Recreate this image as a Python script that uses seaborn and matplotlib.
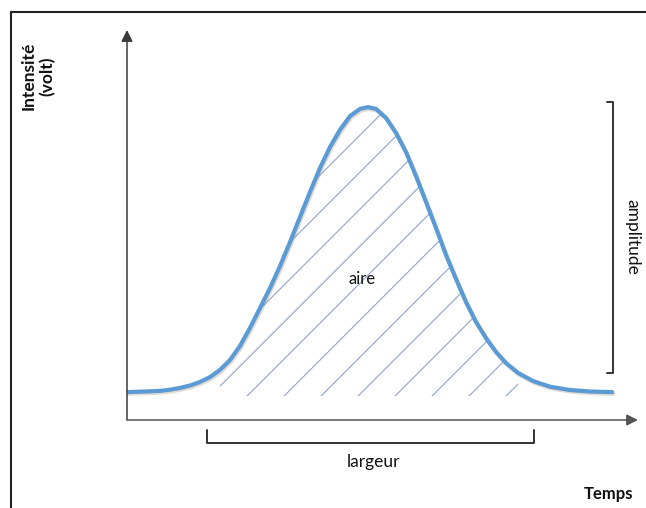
import numpy as np
import pandas as pd
import matplotlib
matplotlib.use('Agg')
import matplotlib.pyplot as plt
import matplotlib.patheffects as pe
from matplotlib.patches import Polygon
from matplotlib.lines import Line2D
import seaborn as sns

# Pulse (time in arbitrary units, intensity in arbitrary units)
temps = [0, 3.6, 6.6, 8.6, 10.6, 12.6, 14.6, 16.6, 18.6, 20.6,
         22.6, 24.6, 26.6, 28.6, 30.6, 32.6, 34.6, 36.6, 38.6, 40.6,
         42.6, 44.6, 46.6, 48.2, 49.8, 51.8, 53.8, 55.8, 57.8, 59.8,
         61.8, 63.8, 65.8, 67.8, 69.8, 71.8, 73.8, 75.8, 78.2, 81.2,
         84.6, 88.6, 92.6, 97.0]
intensite = [9.3, 9.5, 9.7, 10.1, 10.7, 11.5, 12.7, 14.3, 16.7, 20.0,
             24.7, 30.7, 37.3, 44.0, 51.3, 59.3, 67.7, 76.0, 84.0, 91.0,
             96.7, 101.3, 103.7, 104.3, 103.7, 100.7, 95.7, 89.3, 81.3, 72.7,
             64.0, 55.0, 47.0, 39.3, 32.7, 27.3, 22.7, 19.0, 15.7, 13.0,
             11.1, 10.0, 9.5, 9.3]

# annotation positions (data units)
amplitude_x = 97.2
amplitude_range = (15.7, 106.0)
largeur_range = (16.0, 81.4)
largeur_y = -7.7
hatch_range = (17.0, 78.5)
hatch_floor = 8.0

df = pd.DataFrame({'temps': temps, 'intensite': intensite})

sns.set_theme(style='white')
plt.rcParams['font.family'] = ['Lato', 'DejaVu Sans']

W, H = 646, 508
fig = plt.figure(figsize=(W / 100, H / 100), dpi=100)
ax = fig.add_axes([127 / W, 88 / H, 511 / W, 390 / H])
ax.set_xlim(0, 102.2)
ax.set_ylim(0, 130)
ax.axis('off')

# hatched area under the pulse
t = np.array(temps)
v = np.array(intensite)
m = (t >= hatch_range[0]) & (t <= hatch_range[1])
verts = list(zip(t[m], v[m])) + [(t[m][-1], hatch_floor), (t[m][0], hatch_floor)]
clip = Polygon(verts, closed=True, facecolor='none', edgecolor='none')
ax.add_patch(clip)
for c in 19.2 + 7.4 * np.arange(-6, 10):
    tt = np.array([c - 10, c + 80])
    ln, = ax.plot(tt, 12.3 + (5 / 3) * (tt - c), color='#8fa2c9', lw=0.8, zorder=1)
    ln.set_clip_path(clip)

# the pulse itself
sns.lineplot(data=df, x='temps', y='intensite', ax=ax, color='#5b9bd5', lw=3.0,
             estimator=None, sort=False, zorder=3,
             path_effects=[pe.SimpleLineShadow(offset=(0.8, -1.2), shadow_color='#a89580', alpha=0.35),
                           pe.Normal()])
ax.set_xlabel('')
ax.set_ylabel('')

# axes with arrows
arrow = dict(arrowstyle='-|>', color='#3a3a3a', lw=1.1, mutation_scale=17, shrinkA=0, shrinkB=0)
ax.annotate('', xy=(0, 1), xytext=(0, 0), xycoords='axes fraction', arrowprops=arrow)
ax.annotate('', xy=(1, 0), xytext=(0, 0), xycoords='axes fraction',
            arrowprops=dict(arrow, color='#555555'))

# amplitude bracket
a0, a1 = amplitude_range
ax.plot([amplitude_x - 1.2, amplitude_x, amplitude_x, amplitude_x - 1.2], [a1, a1, a0, a0],
        color='#333333', lw=1.4, clip_on=False)
ax.text(101.0, 61, 'amplitude', rotation=-90, ha='center', va='center', fontsize=12.5, color='#111111')

# largeur bracket
l0, l1 = largeur_range
ax.plot([l0, l0, l1, l1], [largeur_y + 4.3, largeur_y, largeur_y, largeur_y + 4.3],
        color='#333333', lw=1.4, clip_on=False)
ax.text(49.2, -14, 'largeur', ha='center', va='center', fontsize=12.5, color='#111111')

ax.text(47, 47, 'aire', ha='center', va='center', fontsize=12, color='#111111')

fig.text(38 / W, 1 - 76 / H, 'Intensité\n(volt)', rotation=90, ha='center', va='center',
         multialignment='center', fontsize=12.5, fontweight='bold', color='#111111',
         linespacing=1.15)
fig.text(609 / W, 1 - 494 / H, 'Temps', ha='center', va='center',
         fontsize=12, fontweight='bold', color='#111111')

# frame (top and left only)
fig.add_artist(Line2D([11 / W, 1], [1 - 12 / H, 1 - 12 / H], transform=fig.transFigure,
                      color='#222222', lw=1.5))
fig.add_artist(Line2D([11 / W, 11 / W], [0, 1 - 12 / H], transform=fig.transFigure,
                      color='#222222', lw=1.5))

fig.savefig('out.png', dpi=100, facecolor='white')
